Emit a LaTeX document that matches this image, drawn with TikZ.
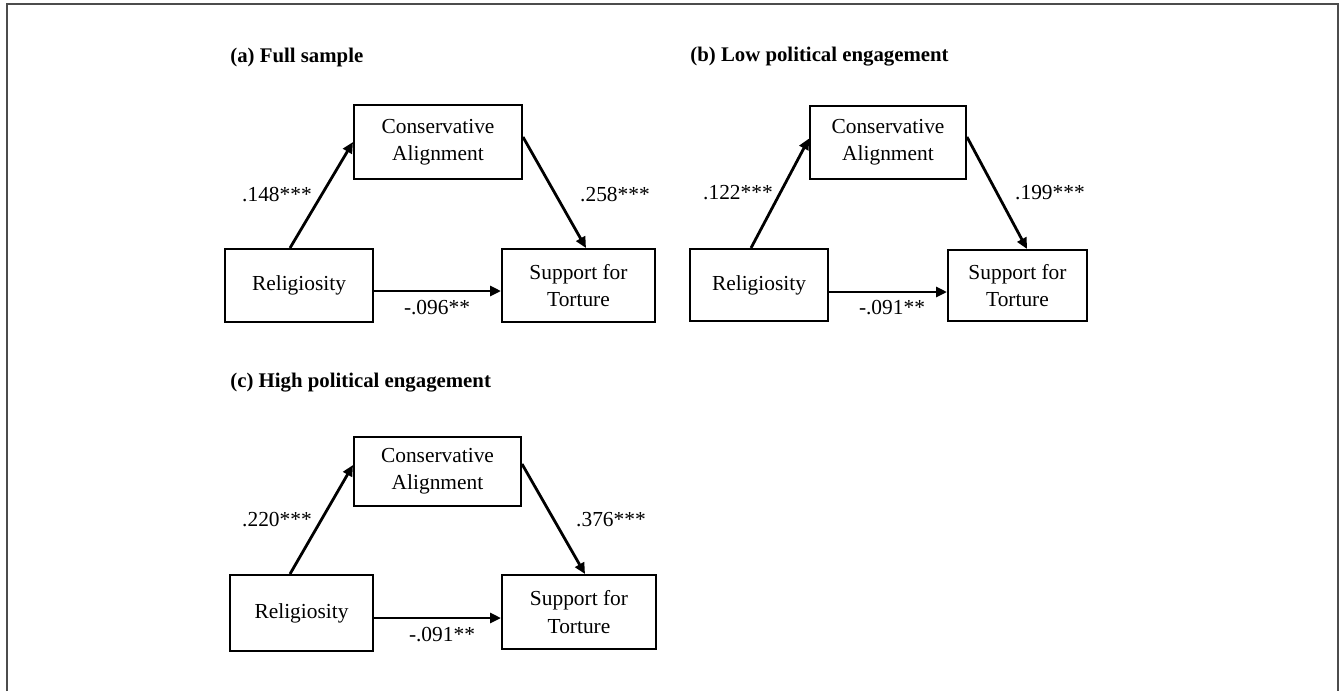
\documentclass[tikz,border=0pt]{standalone}
\usepackage{fontspec}
\setmainfont{Liberation Serif}
\usetikzlibrary{arrows.meta,calc}
\tikzset{
  box/.style   = {draw, line width=1pt, align=center, inner sep=0pt,
                  font=\fontsize{10.7}{13.6}\selectfont},
  coef/.style  = {inner sep=0pt, font=\fontsize{10.7}{13}\selectfont},
  title/.style = {anchor=west, inner sep=0pt, font=\fontsize{10.4}{13}\selectfont\bfseries},
  arrow/.style = {-{Triangle[length=5.5pt,width=5pt]}, line width=1.4pt},
}

\begin{document}
\begin{tikzpicture}[x=0.5pt, y=-0.5pt]
  \useasboundingbox (0,0) rectangle (1339,691);
  \draw[black!70, line width=1pt] (7,691) -- (7,4) -- (1338,4) -- (1338,691);

  % (a) full sample
  \node[title] (ta) at (230,57) {(a) Full sample};
  \node[box, minimum width=84pt, minimum height=37pt]   (consa) at (438,142)   {Conservative\\Alignment};
  \node[box, minimum width=74pt, minimum height=36.5pt] (rela)  at (299,285.5) {Religiosity};
  \node[box, minimum width=76.5pt, minimum height=36.5pt] (supa) at (578.5,285.5) {Support for\\Torture};
  \draw[arrow] ([xshift=-4.5pt]rela.north) -- (consa.west);
  \draw[arrow] ([yshift=2.5pt]consa.east) -- ([xshift=3.75pt]supa.north);
  \draw[arrow] ([yshift=-2.75pt]rela.east) -- ([yshift=-2.75pt]rela.east -| supa.west);
  \node[coef] (la1) at (277,195) {.148***};
  \node[coef] (la2) at (615,195) {.258***};
  \node[coef] (la3) at (437,308) {-.096**};

  % (b) low political engagement
  \node[title] (tb) at (690,57) {(b) Low political engagement};
  \node[box, minimum width=78pt, minimum height=36.5pt]   (consb) at (888,142.5)  {Conservative\\Alignment};
  \node[box, minimum width=69pt, minimum height=36pt]     (relb)  at (759,285)    {Religiosity};
  \node[box, minimum width=69.5pt, minimum height=35.5pt] (supb)  at (1017.5,285.5) {Support for\\Torture};
  \draw[arrow] ([xshift=-4pt]relb.north) -- ([yshift=2pt]consb.west);
  \draw[arrow] ([yshift=2.75pt]consb.east) -- ([xshift=4.75pt]supb.north);
  \draw[arrow] ([yshift=-3.5pt]relb.east) -- ([yshift=-3.5pt]relb.east -| supb.west);
  \node[coef] (lb1) at (738,193)  {.122***};
  \node[coef] (lb2) at (1050,193) {.199***};
  \node[coef] (lb3) at (892,308)  {-.091**};

  % (c) high political engagement
  \node[title] (tc) at (230,383) {(c) High political engagement};
  \node[box, minimum width=83.5pt, minimum height=34.5pt] (consc) at (437.5,471.5) {Conservative\\Alignment};
  \node[box, minimum width=71.5pt, minimum height=38pt]   (relc)  at (301.5,613)   {Religiosity};
  \node[box, minimum width=77pt, minimum height=37pt]     (supc)  at (579,612)     {Support for\\Torture};
  \draw[arrow] ([xshift=-5.75pt]relc.north) -- ([yshift=3.25pt]consc.west);
  \draw[arrow] ([yshift=3.75pt]consc.east) -- ([xshift=3pt]supc.north);
  \draw[arrow] ([yshift=-2.5pt]relc.east) -- ([yshift=-2.5pt]relc.east -| supc.west);
  \node[coef] (lc1) at (277,520) {.220***};
  \node[coef] (lc2) at (611,520) {.376***};
  \node[coef] (lc3) at (442,635) {-.091**};
\end{tikzpicture}
\end{document}
